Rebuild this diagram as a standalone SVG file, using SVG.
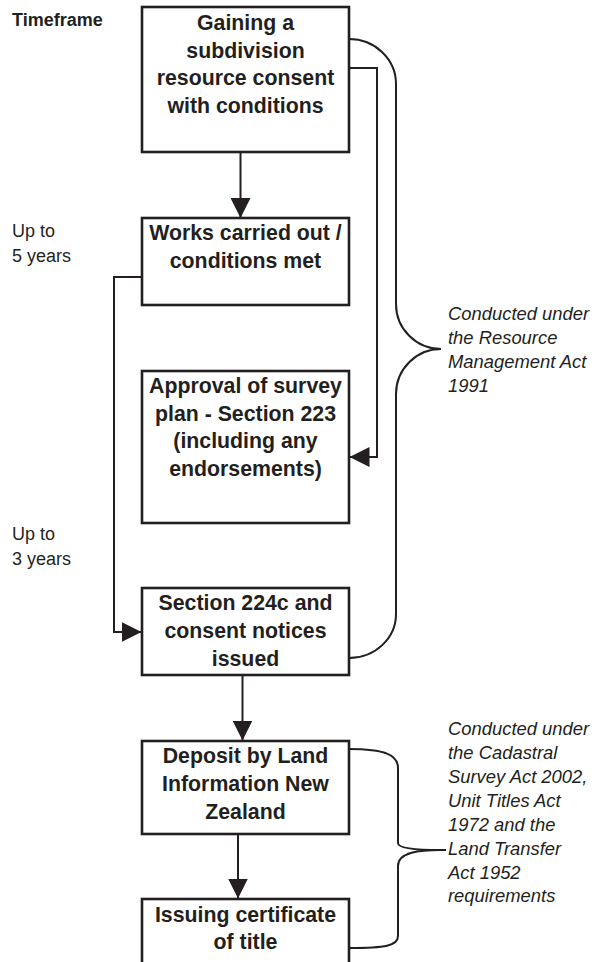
<svg xmlns="http://www.w3.org/2000/svg" width="594" height="962" viewBox="0 0 594 962">
<style>
.box{fill:#ffffff;stroke:#231f20;stroke-width:2.6}
.bt{font-family:"Liberation Sans",Arial,sans-serif;font-weight:bold;font-size:21.3px;fill:#231f20;text-anchor:middle}
.lt{font-family:"Liberation Sans",Arial,sans-serif;font-size:18px;fill:#231f20}
.it{font-family:"Liberation Sans",Arial,sans-serif;font-style:italic;font-size:18.4px;fill:#231f20}
.ln{fill:none;stroke:#231f20;stroke-width:2}
</style>
<defs>
<marker id="ah" viewBox="0 0 20 20" refX="20" refY="10" markerWidth="20" markerHeight="20" markerUnits="userSpaceOnUse" orient="auto">
<path d="M0,0 L20,10 L0,20 z" fill="#231f20"/>
</marker>
</defs>
<rect width="594" height="962" fill="#ffffff"/>

<g id="timeframe-labels">
<text class="lt" x="12" y="26" font-weight="bold">Timeframe</text>
<text class="lt" x="12" y="237">Up to</text>
<text class="lt" x="12" y="261.5">5 years</text>
<text class="lt" x="12" y="540">Up to</text>
<text class="lt" x="12" y="564.5">3 years</text>
</g>

<g id="connectors">
<path class="ln" d="M240.5,152 V218" marker-end="url(#ah)"/>
<path class="ln" d="M349,68 H377 V457 H349.5" marker-end="url(#ah)"/>
<path class="ln" d="M142,277 H114 V632 H141.5" marker-end="url(#ah)"/>
<path class="ln" d="M242.5,675 V740.5" marker-end="url(#ah)"/>
<path class="ln" d="M238,834 V898.5" marker-end="url(#ah)"/>
<path class="ln" d="M349,39 A47,45 0 0 1 396,84 V304 A45,45 0 0 0 441,349 A45,45 0 0 0 396,394 V614 A47,44 0 0 1 349,658"/>
<path class="ln" d="M349,749 C385,749 398,755 398,768 V843 C398,849 420,850 441,850 H446 M441,850 C420,850 398,852 398,866 V936 C398,946 385,948 349,948"/>
</g>

<g id="node-consent">
<rect class="box" x="142" y="7" width="207" height="145"/>
<text class="bt" x="245.5" y="30">Gaining a</text>
<text class="bt" x="245.5" y="57.5">subdivision</text>
<text class="bt" x="245.5" y="85">resource consent</text>
<text class="bt" x="245.5" y="112.5">with conditions</text>
</g>

<g id="node-works">
<rect class="box" x="142" y="218" width="207" height="87"/>
<text class="bt" x="245.5" y="240">Works carried out /</text>
<text class="bt" x="245.5" y="267.5">conditions met</text>
</g>

<g id="node-approval">
<rect class="box" x="142" y="371" width="207" height="152"/>
<text class="bt" x="245.5" y="393">Approval of survey</text>
<text class="bt" x="245.5" y="420.5">plan - Section 223</text>
<text class="bt" x="245.5" y="448">(including any</text>
<text class="bt" x="245.5" y="475.5">endorsements)</text>
</g>

<g id="node-224c">
<rect class="box" x="142" y="588" width="207" height="87"/>
<text class="bt" x="245.5" y="610">Section 224c and</text>
<text class="bt" x="245.5" y="638">consent notices</text>
<text class="bt" x="245.5" y="666">issued</text>
</g>

<g id="node-deposit">
<rect class="box" x="142" y="741" width="207" height="93"/>
<text class="bt" x="245.5" y="763">Deposit by Land</text>
<text class="bt" x="245.5" y="791">Information New</text>
<text class="bt" x="245.5" y="819">Zealand</text>
</g>

<g id="node-certificate">
<rect class="box" x="142" y="899" width="207" height="75"/>
<text class="bt" x="245.5" y="921.5">Issuing certificate</text>
<text class="bt" x="245.5" y="949">of title</text>
</g>

<g id="note-rma">
<text class="it" x="448" y="320">Conducted under</text>
<text class="it" x="448" y="344">the Resource</text>
<text class="it" x="448" y="368">Management Act</text>
<text class="it" x="448" y="392">1991</text>
</g>

<g id="note-cadastral">
<text class="it" x="448" y="735">Conducted under</text>
<text class="it" x="448" y="759">the Cadastral</text>
<text class="it" x="448" y="783">Survey Act 2002,</text>
<text class="it" x="448" y="807">Unit Titles Act</text>
<text class="it" x="448" y="831">1972 and the</text>
<text class="it" x="448" y="855">Land Transfer</text>
<text class="it" x="448" y="879">Act 1952</text>
<text class="it" x="448" y="902">requirements</text>
</g>
</svg>
